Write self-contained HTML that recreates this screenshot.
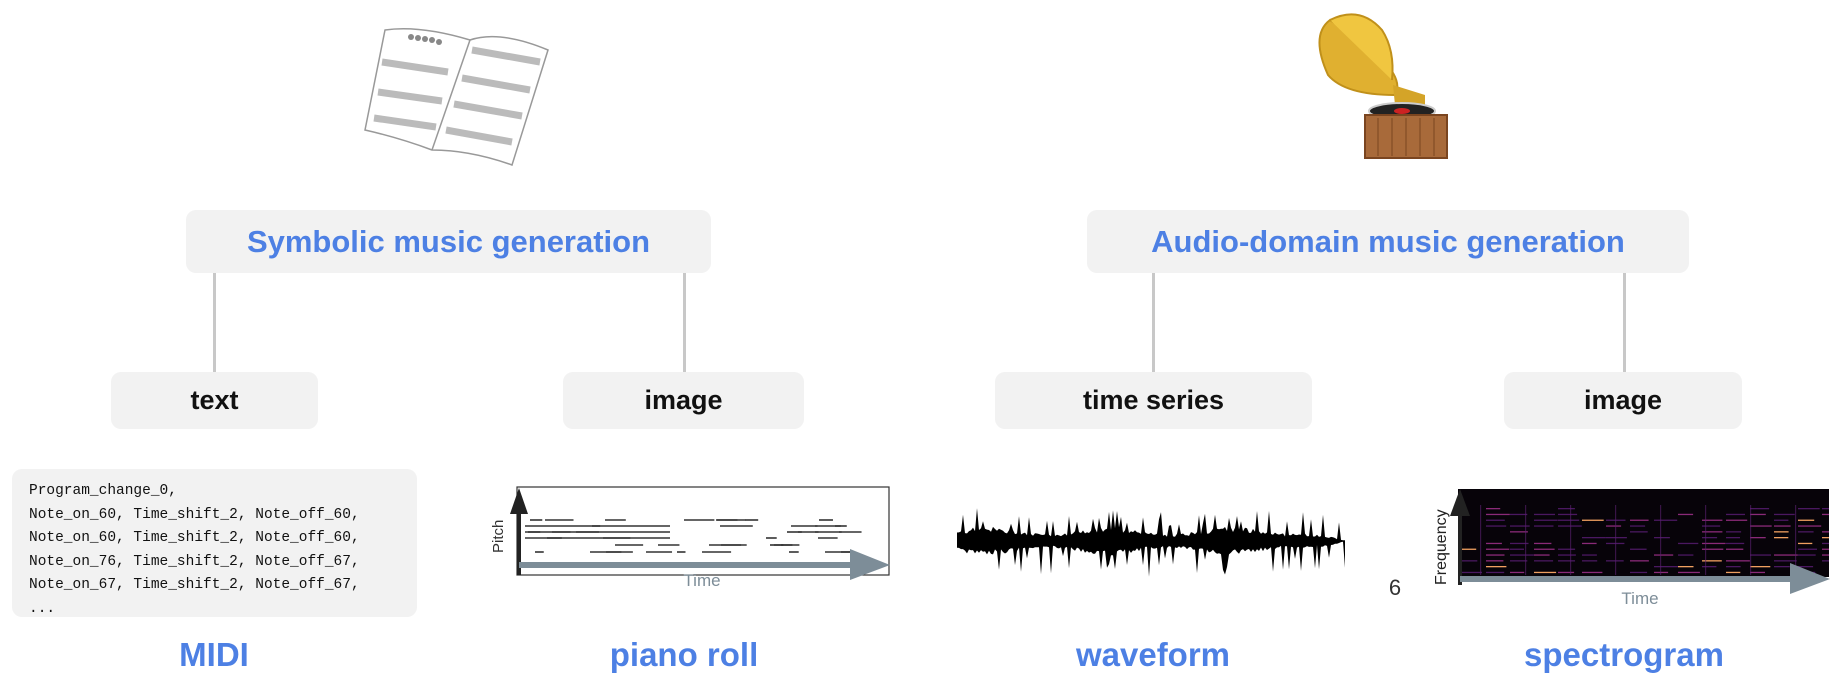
<!DOCTYPE html>
<html><head><meta charset="utf-8"><style>
body{margin:0;width:1848px;height:682px;background:#fff;position:relative;overflow:hidden;font-family:"Liberation Sans",sans-serif}
.b{position:absolute;background:#f2f2f2;border-radius:10px;display:flex;align-items:center;justify-content:center;font-weight:bold}
.h{color:#4d80e4;font-size:31px}
.l{color:#111;font-size:27px}
.v{position:absolute;width:3px;background:#c8c8c8}
.lab{position:absolute;color:#4d80e4;font-weight:bold;font-size:33px;transform:translateX(-50%);white-space:nowrap}
pre{margin:0;font-family:"Liberation Mono",monospace;font-size:14.5px;line-height:23.5px;color:#111}
</style></head><body>
<svg width="1848" height="682" style="position:absolute;left:0;top:0">
<defs><clipPath id="spc"><rect x="1458" y="489" width="371" height="88"/></clipPath></defs>
<g stroke="#999" fill="#fff" stroke-width="1.5">
<path d="M365 130 L385 30 Q420 25 470 40 Q500 30 548 50 L512 165 Q470 150 432 150 Q400 138 365 130Z"/>
<path d="M432 150 L470 40" fill="none"/>
</g>
<g fill="#888"><circle cx="411" cy="37" r="3"/><circle cx="418" cy="38" r="3"/><circle cx="425" cy="39" r="3"/><circle cx="432" cy="40" r="3"/><circle cx="439" cy="42" r="3"/></g>
<g stroke="#bbb" stroke-width="7" fill="none">
<path d="M382 62 L448 72"/><path d="M378 92 L442 101"/><path d="M374 118 L436 127"/>
<path d="M472 50 L540 62"/><path d="M462 78 L530 90"/><path d="M454 104 L522 116"/><path d="M446 130 L512 142"/>
</g>
<path d="M1395 95 Q1410 70 1330 20 Q1310 35 1328 75 Q1345 95 1395 95Z" fill="#e0b030" stroke="#c0901a" stroke-width="2"/>
<path d="M1330 20 Q1360 5 1382 30 Q1395 50 1392 80" fill="#f0c640" stroke="#c0901a" stroke-width="2"/>
<path d="M1393 85 L1425 95 L1425 105 L1395 105" fill="#d4a428"/>
<ellipse cx="1402" cy="111" rx="33" ry="8" fill="#222" stroke="#ccc" stroke-width="2"/>
<ellipse cx="1402" cy="111" rx="8" ry="3" fill="#c22"/>
<rect x="1365" y="115" width="82" height="43" fill="#a86a3a" stroke="#7a4520" stroke-width="2"/>
<g stroke="#7a4520" stroke-width="1"><path d="M1378 118V156M1392 118V156M1406 118V156M1420 118V156M1434 118V156"/></g>
<rect x="517" y="487" width="372" height="88" fill="#fff" stroke="#333" stroke-width="1.2"/>
<g id="pr" stroke="#333" stroke-width="1.6"></g>
<line x1="519" y1="575" x2="519" y2="512" stroke="#222" stroke-width="4"/>
<polygon points="519,488 510,514 528,514" fill="#222"/>
<text x="503" y="553" font-size="15" fill="#333" transform="rotate(-90 503 553)" font-family="Liberation Sans">Pitch</text>
<line x1="519" y1="565" x2="860" y2="565" stroke="#7d8d98" stroke-width="6"/>
<polygon points="850,549 890,565 850,580" fill="#7d8d98"/>
<text x="702" y="586" font-size="17" fill="#7d8d98" text-anchor="middle">Time</text>
<path id="wf" fill="#000"/>
<rect x="1458" y="489" width="371" height="88" fill="#070309"/>
<g id="sp" clip-path="url(#spc)"></g>
<line x1="1460" y1="585" x2="1460" y2="512" stroke="#222" stroke-width="4"/>
<polygon points="1460,489 1450,516 1470,516" fill="#222"/>
<text x="1446" y="585" font-size="16" fill="#222" transform="rotate(-90 1446 585)">Frequency</text>
<line x1="1460" y1="579" x2="1800" y2="579" stroke="#7d8d98" stroke-width="6"/>
<polygon points="1790,563 1830,579 1790,594" fill="#7d8d98"/>
<text x="1640" y="604" font-size="17" fill="#7d8d98" text-anchor="middle">Time</text>
<text x="1395" y="595" font-size="22" fill="#333" text-anchor="middle">6</text>
</svg>

<div class="b h" style="left:186px;top:210px;width:525px;height:63px">Symbolic music generation</div>
<div class="b h" style="left:1087px;top:210px;width:602px;height:63px">Audio-domain music generation</div>
<div class="v" style="left:213px;top:273px;height:99px"></div>
<div class="v" style="left:683px;top:273px;height:99px"></div>
<div class="v" style="left:1152px;top:273px;height:99px"></div>
<div class="v" style="left:1623px;top:273px;height:99px"></div>
<div class="b l" style="left:111px;top:372px;width:207px;height:57px">text</div>
<div class="b l" style="left:563px;top:372px;width:241px;height:57px">image</div>
<div class="b l" style="left:995px;top:372px;width:317px;height:57px">time series</div>
<div class="b l" style="left:1504px;top:372px;width:238px;height:57px">image</div>
<div class="b" style="left:12px;top:469px;width:405px;height:148px;display:block;font-weight:normal">
<pre style="padding:11px 0 0 17px">Program_change_0,
Note_on_60, Time_shift_2, Note_off_60,
Note_on_60, Time_shift_2, Note_off_60,
Note_on_76, Time_shift_2, Note_off_67,
Note_on_67, Time_shift_2, Note_off_67,
...</pre></div>
<div class="lab" style="left:214px;top:636px">MIDI</div>
<div class="lab" style="left:684px;top:636px">piano roll</div>
<div class="lab" style="left:1153px;top:636px">waveform</div>
<div class="lab" style="left:1624px;top:636px">spectrogram</div>
<script>
(function(){
var s=7;function r(){s=(s*9301+49297)%233280;return s/233280;}
var up=[],dn=[];
for(var x=957;x<=1346;x+=2){var t=(x-957)/389;
var env=9+3*Math.sin(t*20);
if(t>0.86)env=Math.max(1,env*(1-(t-0.86)/0.14)*1.3);
var a=env*(0.7+0.5*r());if(r()<0.15)a+=8+r()*16;var b=env*(0.7+0.5*r());if(r()<0.12)b+=8+r()*20;
up.push(x+','+(541-a).toFixed(1));dn.unshift(x+','+(541+b).toFixed(1));}
document.getElementById('wf').setAttribute('d','M'+up.join('L')+'L'+dn.join('L')+'Z');
var pr='';var ys=[520,526,532,538,545,552];
for(var i=0;i<40;i++){var y=ys[Math.floor(r()*6)];var x2=525+Math.floor(r()*330);var w=8+r()*25;pr+='<line x1="'+x2+'" y1="'+y+'" x2="'+(x2+w)+'" y2="'+y+'"/>';}
for(var j=0;j<3;j++){var yy=ys[j+1];pr+='<line x1="525" y1="'+yy+'" x2="670" y2="'+yy+'"/>';}
document.getElementById('pr').innerHTML=pr;
var sp='';
for(var k=0;k<12;k++){var y3=508+k*5.8;for(var x3=1462;x3<1829;x3+=24){if(r()<0.35)continue;var q=r();var c=q<0.12?'#f0a060':(q<0.45?'#8a2a78':'#4a1860');sp+='<rect x="'+x3+'" y="'+y3.toFixed(1)+'" width="'+(14+r()*10).toFixed(1)+'" height="1.3" fill="'+c+'"/>';}}
for(var m=0;m<8;m++){var x4=1480+m*45;sp+='<rect x="'+x4+'" y="505" width="1.2" height="70" fill="#5a2070" opacity="0.6"/>';}
document.getElementById('sp').innerHTML=sp;
})();
</script>
</body></html>
